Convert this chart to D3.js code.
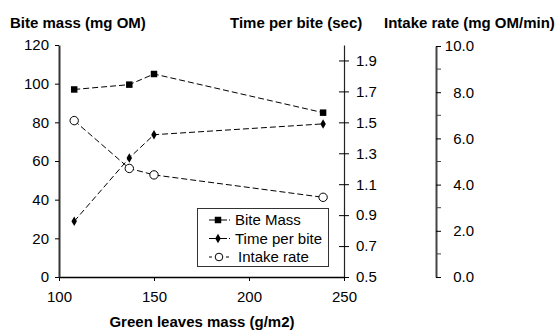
<!DOCTYPE html>
<html><head><meta charset="utf-8">
<script src="https://cdn.jsdelivr.net/npm/d3@7"></script>
<style>body{margin:0;background:#fff}svg{display:block}text{font-family:Arial,"Liberation Sans",sans-serif}</style>
</head><body><svg id="c" width="555" height="331"></svg>
<script>
const greenMass = [108, 137, 150, 239];
const biteMass = [97, 99.5, 105, 85];
const timePerBite = [0.86, 1.27, 1.42, 1.49];
const intakeRate = [6.77, 4.70, 4.42, 3.45];
const biteTicks = [0, 20, 40, 60, 80, 100, 120];
const timeTicks = [0.5, 0.7, 0.9, 1.1, 1.3, 1.5, 1.7, 1.9];
const intakeTicks = [0, 2, 4, 6, 8, 10];
const intakeMinor = [1, 3, 5, 7, 9];
const xTicks = [100, 150, 200, 250];
const seriesNames = ["Bite Mass", "Time per bite", "Intake rate"];

const FS = 15;
const FF = "Arial, 'Liberation Sans', sans-serif";
const svg = d3.select("#c");
const x = d3.scaleLinear().domain([100, 250]).range([59, 344]);
const yB = d3.scaleLinear().domain([0, 120]).range([277, 45]);
const yT = d3.scaleLinear().domain([0.5, 2.0]).range([277, 45]);
const yI = d3.scaleLinear().domain([0, 10]).range([277, 46]);

const tt = (t, px, py, anchor) => svg.append("text").attr("x", px).attr("y", py)
  .attr("text-anchor", anchor || "start").attr("font-size", FS).attr("font-weight", "bold")
  .attr("font-family", FF).attr("fill", "#000").text(t);
tt("Bite mass (mg OM)", 10, 28);
tt("Time per bite (sec)", 230, 28);
tt("Intake rate (mg OM/min)", 384, 28);
tt("Green leaves mass (g/m2)", 202, 327, "middle");

const styleText = g => g.selectAll("text").attr("font-size", FS).attr("fill", "#000").attr("font-family", FF);

// X axis
const gx = svg.append("g").attr("transform", "translate(0,277)")
  .call(d3.axisBottom(x).tickValues(xTicks).tickSize(4).tickPadding(10).tickSizeOuter(0).tickFormat(d3.format("d")));
gx.select(".domain").attr("stroke", "#000").attr("stroke-width", 1.5);
styleText(gx);

// Left axis
const gl = svg.append("g").attr("transform", "translate(59,0)")
  .call(d3.axisLeft(yB).tickValues(biteTicks).tickSize(4).tickPadding(6).tickSizeOuter(0));
gl.select(".domain").attr("stroke", "#333").attr("stroke-width", 2);
styleText(gl);

// Time axis (crossing ticks)
const gt = svg.append("g").attr("transform", "translate(344,0)")
  .call(d3.axisRight(yT).tickValues(timeTicks).tickSize(4).tickPadding(8).tickSizeOuter(0).tickFormat(d3.format(".1f")));
gt.select(".domain").attr("stroke", "#222").attr("stroke-width", 1.2);
gt.selectAll(".tick line").attr("x1", -5).attr("x2", 5);
styleText(gt);

// Intake axis
const gi = svg.append("g").attr("transform", "translate(436,0)")
  .call(d3.axisRight(yI).tickValues(intakeTicks).tickSize(5).tickPadding(11).tickSizeOuter(0).tickFormat(d3.format(".1f")));
gi.select(".domain").attr("stroke", "#444").attr("stroke-width", 2);
styleText(gi);
gi.selectAll(".tick text").attr("text-anchor", "end").attr("x", 38);
gi.selectAll(".minor").data(intakeMinor).enter().append("line")
  .attr("x1", 0).attr("x2", 5).attr("y1", d => yI(d)).attr("y2", d => yI(d)).attr("stroke", "#444");

// Series
function series(vals, ys) {
  const pts = greenMass.map((g, i) => [x(g), ys(vals[i])]);
  svg.append("path").attr("d", d3.line()(pts)).attr("fill", "none").attr("stroke", "#000")
    .attr("stroke-width", 1).attr("stroke-dasharray", "6,3");
  return pts;
}
const pB = series(biteMass, yB);
const pT = series(timePerBite, yT);
const pI = series(intakeRate, yI);
const sq = d3.symbol().type(d3.symbolSquare).size(42);
const dm = d3.symbol().type(d3.symbolDiamond).size(26);
svg.selectAll(".pb").data(pB).enter().append("path").attr("d", sq).attr("transform", d => `translate(${d[0]},${d[1]})`).attr("fill", "#000");
svg.selectAll(".pt").data(pT).enter().append("path").attr("d", dm).attr("transform", d => `translate(${d[0]},${d[1]})`).attr("fill", "#000");
svg.selectAll(".pi").data(pI).enter().append("circle").attr("cx", d => d[0]).attr("cy", d => d[1]).attr("r", 4.2)
  .attr("fill", "#fff").attr("stroke", "#000").attr("stroke-width", 1);

// Legend
const lg = svg.append("g");
lg.append("rect").attr("x", 197.5).attr("y", 208.5).attr("width", 131).attr("height", 58)
  .attr("fill", "#fff").attr("stroke", "#333").attr("stroke-width", 1);
const ly = [220, 238.5, 257];
seriesNames.forEach((n, i) => {
  const yy = ly[i];
  if (i < 2) {
    lg.append("line").attr("x1", 209).attr("x2", 226).attr("y1", yy).attr("y2", yy).attr("stroke", "#000");
    lg.append("line").attr("x1", 226).attr("x2", 232).attr("y1", yy).attr("y2", yy).attr("stroke", "#000").attr("stroke-dasharray", "1,2");
    lg.append("path").attr("d", i === 0 ? sq : dm).attr("transform", `translate(218,${yy})`).attr("fill", "#000");
  } else {
    lg.append("line").attr("x1", 209).attr("x2", 229).attr("y1", yy).attr("y2", yy).attr("stroke", "#000").attr("stroke-dasharray", "3,14");
    lg.append("circle").attr("cx", 219).attr("cy", yy).attr("r", 3.8).attr("fill", "#fff").attr("stroke", "#000");
  }
  lg.append("text").attr("x", i === 2 ? 238 : 235).attr("y", yy + 5).attr("font-size", FS)
    .attr("font-family", FF).attr("fill", "#000").text(n);
});
</script></body></html>
